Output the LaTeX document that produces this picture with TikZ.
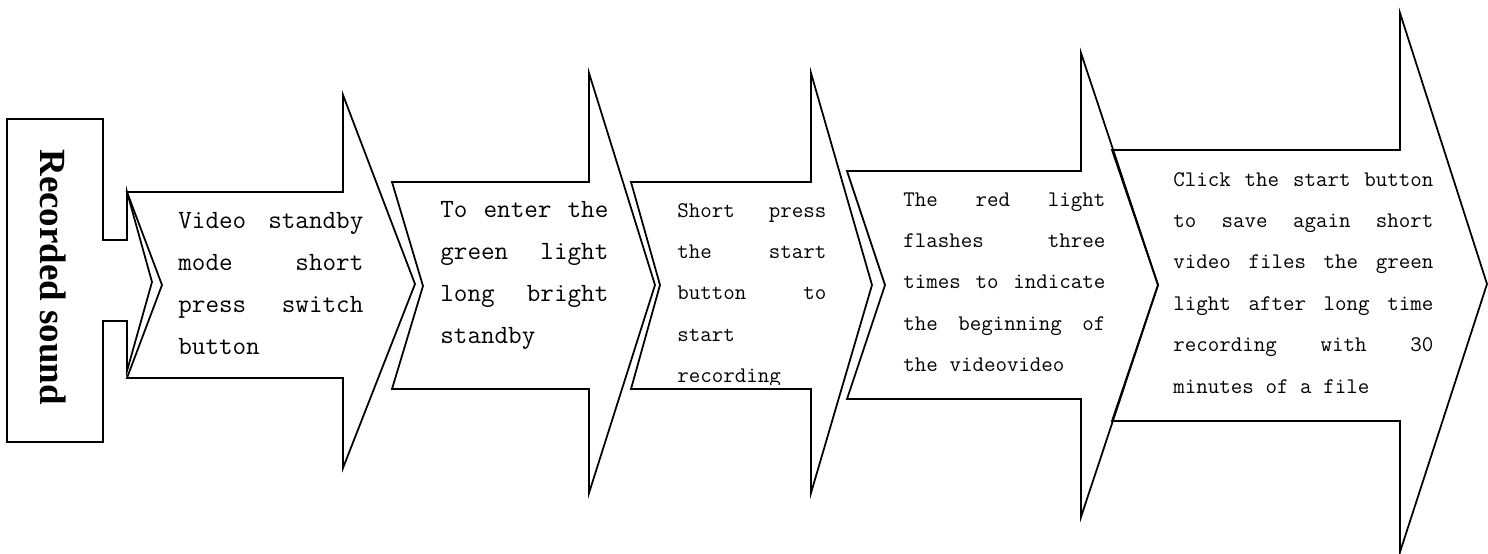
\documentclass[tikz,border=0pt]{standalone}
\usepackage{fontspec}
\usepackage{tikz}
\newfontfamily\titlefont{Liberation Serif}
\newcommand{\stretchspaces}{\spaceskip=.525em plus 4em\relax\parindent=0pt\relax}
\tikzset{
  outline/.style={line width=1pt, line join=miter},
  bigtext/.style={anchor=base west, inner sep=0pt, align=justify,
    font=\ttfamily\fontsize{15}{23.9}\selectfont, execute at begin node=\stretchspaces},
  smalltext/.style={anchor=base west, inner sep=0pt, align=justify,
    font=\ttfamily\fontsize{12.7}{23.6}\selectfont, execute at begin node=\stretchspaces},
}

\begin{document}
\begin{tikzpicture}[x=0.2mm, y=-0.2mm]
	\useasboundingbox (0,0) rectangle (1488,553);
	% left box with its own small arrow head
	\draw[outline] (7,119) -- (103,119) -- (103,240) -- (127,240) -- (127,192) -- (152,282) -- (127,371) -- (127,321) -- (103,321) -- (103,442) -- (7,442) -- cycle;
	\node[rotate=-90, inner sep=0pt, font=\titlefont\bfseries\fontsize{21}{25}\selectfont] (title) at (53,277) {Recorded sound};
	% the five step arrows
	\draw[outline] (127,192) -- (343,192) -- (343,95) -- (415,284) -- (343,468) -- (343,378) -- (127,378) -- (162,285) -- cycle;
	\draw[outline] (392,182) -- (589,182) -- (589,73) -- (655,285) -- (589,493) -- (589,389) -- (392,389) -- (423,286) -- cycle;
	\draw[outline] (631,182) -- (811,182) -- (811,73) -- (872,285) -- (811,493) -- (811,389) -- (631,389) -- (660,285) -- cycle;
	\draw[outline] (847,171) -- (1081,171) -- (1081,53) -- (1158,285) -- (1081,517) -- (1081,399) -- (847,399) -- (885,285) -- cycle;
	\draw[outline] (1112,150) -- (1400,150) -- (1400,13) -- (1487,284) -- (1400,552) -- (1400,421) -- (1112,421) -- (1158,285) -- cycle;
	% texts
	\node[bigtext, text width=37mm] (standby) at (178,228) {Video standby\linebreak mode short\linebreak press switch\linebreak button};
	\node[bigtext, text width=33.6mm] (greenlight) at (440,217) {To enter the\linebreak green light\linebreak long bright\linebreak standby};
	\begin{scope}
		\clip (600,150) rectangle (840,384);
		\node[smalltext, text width=29.8mm] (startrec) at (677,217) {Short press\linebreak the start\linebreak button to\linebreak start\newline recording};
	\end{scope}
	\node[smalltext, text width=40.4mm] (redlight) at (903,206) {The red light\linebreak flashes three\linebreak times to indicate\linebreak the beginning of\linebreak the videovideo};
	\node[smalltext, text width=52mm] (savefile) at (1173,186) {Click the start button\linebreak to save again short\linebreak video files the green\linebreak light after long time\linebreak recording with 30\linebreak minutes of a file};
\end{tikzpicture}
\end{document}
